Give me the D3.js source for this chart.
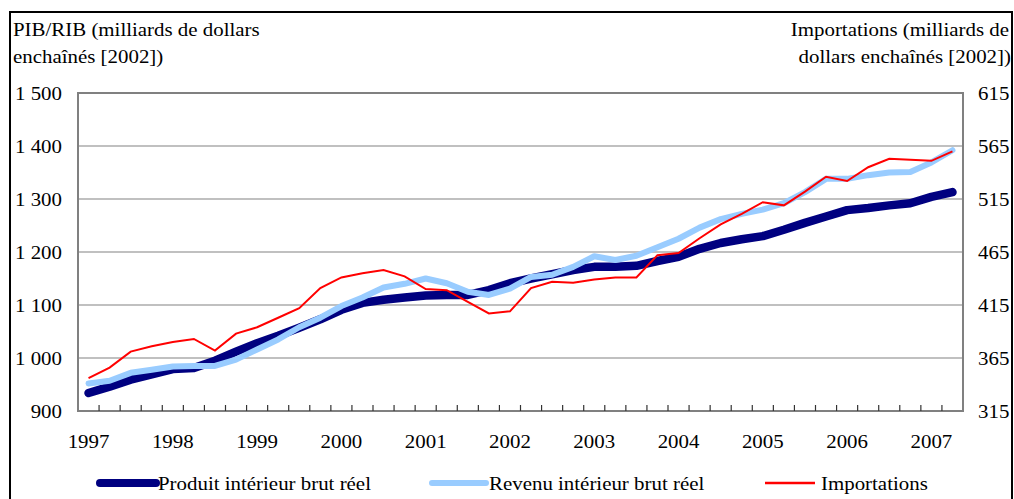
<!DOCTYPE html>
<html>
<head>
<meta charset="utf-8">
<script src="https://cdn.jsdelivr.net/npm/d3@7"></script>
<style>
  body { margin: 0; background: #fff; }
  text { font-family: "Liberation Serif", "Times New Roman", serif; fill: #000; }
</style>
</head>
<body>
<div id="chart"></div>
<script>
// quarters 1997T1 .. 2007T2
var years = [1997,1998,1999,2000,2001,2002,2003,2004,2005,2006,2007];
var quarters = [];
years.forEach(function(y){ [1,2,3,4].forEach(function(q){ if (!(y == 2007 && q > 2)) quarters.push(y + "T" + q); }); });

// PIB reel (left axis)
var pib = [934,946,959,969,979,981,995,1012,1028,1042,1057,1073,1091,1104,1110,1114,1118,1119,1119,1128,1141,1150,1158,1166,1172,1172,1174,1183,1191,1206,1217,1224,1230,1242,1255,1267,1279,1283,1288,1292,1304,1313];
// RIB reel (left axis)
var rib = [952,957,972,978,984,985,985,997,1016,1035,1058,1076,1098,1114,1133,1140,1150,1141,1125,1119,1131,1153,1157,1172,1192,1185,1193,1209,1225,1246,1262,1272,1280,1292,1313,1338,1338,1345,1350,1351,1369,1392];
// Importations (right axis)
var imports = [346,356,371,376,380,383,372,388,394,403,412,431,441,445,448,442,430,429,418,407,409,431,437,436,439,441,441,462,464,478,491,501,512,509,522,536,532,545,553,552,551,560];

var leftTicks = [900,1000,1100,1200,1300,1400,1500];
var rightTicks = [315,365,415,465,515,565,615];

var width = 1014, height = 499;
var margin = {top:93, right:1014-963, bottom:499-411, left:78};
var sx = 1.1; // text is a bit wide in the reference
var fs = "19px";

var svg = d3.select('#chart').append('svg')
	.attr("width", width)
	.attr("height", height);

// outer frame
svg.append("rect")
	.attr("x", 10).attr("y", 12)
	.attr("width", 1002).attr("height", 500)
	.attr("fill", "none")
	.attr("stroke", "#000")
	.attr("stroke-width", 2);

var x = d3.scaleBand().domain(quarters).range([margin.left, width - margin.right]);
var yL = d3.scaleLinear().domain([900,1500]).range([height - margin.bottom, margin.top]);
var yR = d3.scaleLinear().domain([315,615]).range([height - margin.bottom, margin.top]);

// gridlines
svg.append("g")
	.selectAll("line")
	.data(leftTicks.slice(1, -1))
	.enter().append("line")
	.attr("x1", margin.left).attr("x2", width - margin.right)
	.attr("y1", function(d){ return yL(d); })
	.attr("y2", function(d){ return yL(d); })
	.attr("stroke", "#c0c0c0")
	.attr("stroke-width", 2);

// plot frame
svg.append("rect")
	.attr("x", margin.left).attr("y", margin.top)
	.attr("width", width - margin.left - margin.right)
	.attr("height", height - margin.top - margin.bottom)
	.attr("fill", "none")
	.attr("stroke", "#808080")
	.attr("stroke-width", 2);

// category tick marks (inside, pointing up)
var bounds = quarters.map(function(q){ return x(q); }).slice(1);
svg.append("g")
	.selectAll("line")
	.data(bounds)
	.enter().append("line")
	.attr("x1", function(d){ return d; }).attr("x2", function(d){ return d; })
	.attr("y1", height - margin.bottom).attr("y2", height - margin.bottom - 6)
	.attr("stroke", "#333")
	.attr("stroke-width", 1.2);

var fmt = function(d){ return d >= 1000 ? Math.floor(d/1000) + " " + d3.format("03")(d % 1000) : d; };

function styleText(sel){
	sel.attr("transform", "scale(" + sx + ",1)")
		.attr("fill", "#000")
		.style("font-size", fs)
		.style("font-family", '"Liberation Serif", "Times New Roman", serif');
}

// left axis labels
var axL = svg.append("g")
	.attr("transform", "translate(" + margin.left + ",0)")
	.call(d3.axisLeft(yL).tickValues(leftTicks).tickFormat(fmt).tickSize(0).tickPadding(0));
axL.select(".domain").remove();
axL.selectAll("text").attr("x", -16 / sx).call(styleText);

// right axis labels
var axR = svg.append("g")
	.attr("transform", "translate(" + (width - margin.right) + ",0)")
	.call(d3.axisRight(yR).tickValues(rightTicks).tickSize(0).tickPadding(0));
axR.select(".domain").remove();
axR.selectAll("text").attr("x", 15 / sx).call(styleText);

// year labels
var axB = svg.append("g")
	.attr("transform", "translate(0," + (height - margin.bottom) + ")")
	.call(d3.axisBottom(x).tickValues(years.map(function(y){ return y + "T1"; }))
		.tickFormat(function(d){ return d.slice(0,4); }).tickSize(0).tickPadding(0));
axB.select(".domain").remove();
axB.selectAll("text").attr("y", 0).attr("dy", 37).call(styleText);

function label(px, py, str, anchor){
	svg.append("text")
		.attr("x", px / sx).attr("y", py)
		.attr("text-anchor", anchor || "start")
		.text(str)
		.call(styleText);
}
label(13, 36, "PIB/RIB (milliards de dollars");
label(13, 63, "enchaînés [2002])");
label(1009, 36, "Importations (milliards de", "end");
label(1011, 63, "dollars enchaînés [2002])", "end");

// lines
var cx = function(d, i){ return x(quarters[i]) + x.bandwidth() / 2; };
var lineL = d3.line().x(function(d, i){ return cx(d, i); }).y(function(d){ return yL(d); });
var lineR = d3.line().x(function(d, i){ return cx(d, i); }).y(function(d){ return yR(d); });

svg.append("path").datum(pib)
	.attr("d", lineL).attr("fill", "none")
	.attr("stroke", "#000080").attr("stroke-width", 8.5)
	.attr("stroke-linecap", "round").attr("stroke-linejoin", "round");
svg.append("path").datum(rib)
	.attr("d", lineL).attr("fill", "none")
	.attr("stroke", "#99ccff").attr("stroke-width", 6)
	.attr("stroke-linecap", "round").attr("stroke-linejoin", "round");
svg.append("path").datum(imports)
	.attr("d", lineR).attr("fill", "none")
	.attr("stroke", "#ff0000").attr("stroke-width", 2);

// legend
var legend = [
	{name: "Produit intérieur brut réel", color: "#000080", w: 8, x1: 100, x2: 156, tx: 158},
	{name: "Revenu intérieur brut réel", color: "#99ccff", w: 6, x1: 432, x2: 486, tx: 489},
	{name: "Importations", color: "#ff0000", w: 2.5, x1: 765, x2: 815, tx: 821}
];
legend.forEach(function(l){
	svg.append("line")
		.attr("x1", l.x1).attr("x2", l.x2)
		.attr("y1", 483).attr("y2", 483)
		.attr("stroke", l.color).attr("stroke-width", l.w)
		.attr("stroke-linecap", l.w > 3 ? "round" : "butt");
	label(l.tx, 490, l.name);
});
</script>
</body>
</html>
